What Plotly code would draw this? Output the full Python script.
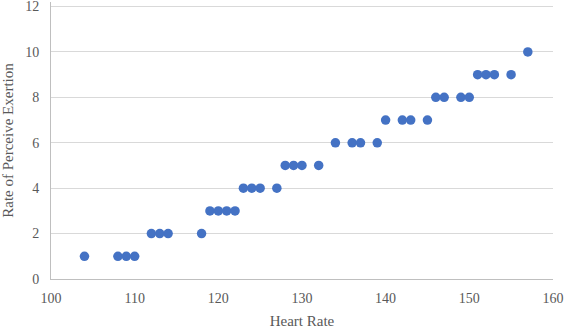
import plotly.graph_objects as go

heart_rate = [104, 108, 109, 110, 112, 113, 114, 118, 119, 120, 121, 122,
              123, 124, 125, 127, 128, 129, 130, 132, 134, 136, 137, 139,
              140, 142, 143, 145, 146, 147, 149, 150, 151, 152, 153, 155, 157]
rpe = [1, 1, 1, 1, 2, 2, 2, 2, 3, 3, 3, 3,
       4, 4, 4, 4, 5, 5, 5, 5, 6, 6, 6, 6,
       7, 7, 7, 7, 8, 8, 8, 8, 9, 9, 9, 9, 10]
x_ticks = [100, 110, 120, 130, 140, 150, 160]
y_ticks = [0, 2, 4, 6, 8, 10, 12]

fig = go.Figure(go.Scatter(
    x=heart_rate, y=rpe, mode="markers",
    marker=dict(color="#4472C4", size=9.5),
))

font_family = "Liberation Serif, Times New Roman, serif"
fig.update_layout(
    width=567, height=329,
    margin=dict(l=51, r=14, t=2, b=50),
    plot_bgcolor="white", paper_bgcolor="white",
    font=dict(family=font_family, color="#595959", size=14),
    showlegend=False,
)
fig.update_xaxes(
    range=[100, 160.01], tickvals=x_ticks, showgrid=False, zeroline=False,
    showline=True, linecolor="#BFBFBF", linewidth=1, automargin=False,
    ticks="", tickfont=dict(family=font_family, size=14), ticklabelstandoff=6,
    ticklabeloverflow="allow",
    title=dict(text="Heart Rate", font=dict(family=font_family, size=15), standoff=10),
)
fig.update_yaxes(
    range=[0, 12.2], tickvals=y_ticks, showgrid=True, gridcolor="#D9D9D9",
    zeroline=False, showline=True, linecolor="#BFBFBF", linewidth=1, automargin=False,
    ticks="", tickfont=dict(family=font_family, size=14), ticklabelstandoff=8,
    ticklabeloverflow="allow",
    title=dict(text="Rate of Perceive Exertion", font=dict(family=font_family, size=15), standoff=8),
)
fig.write_html("out.html")
